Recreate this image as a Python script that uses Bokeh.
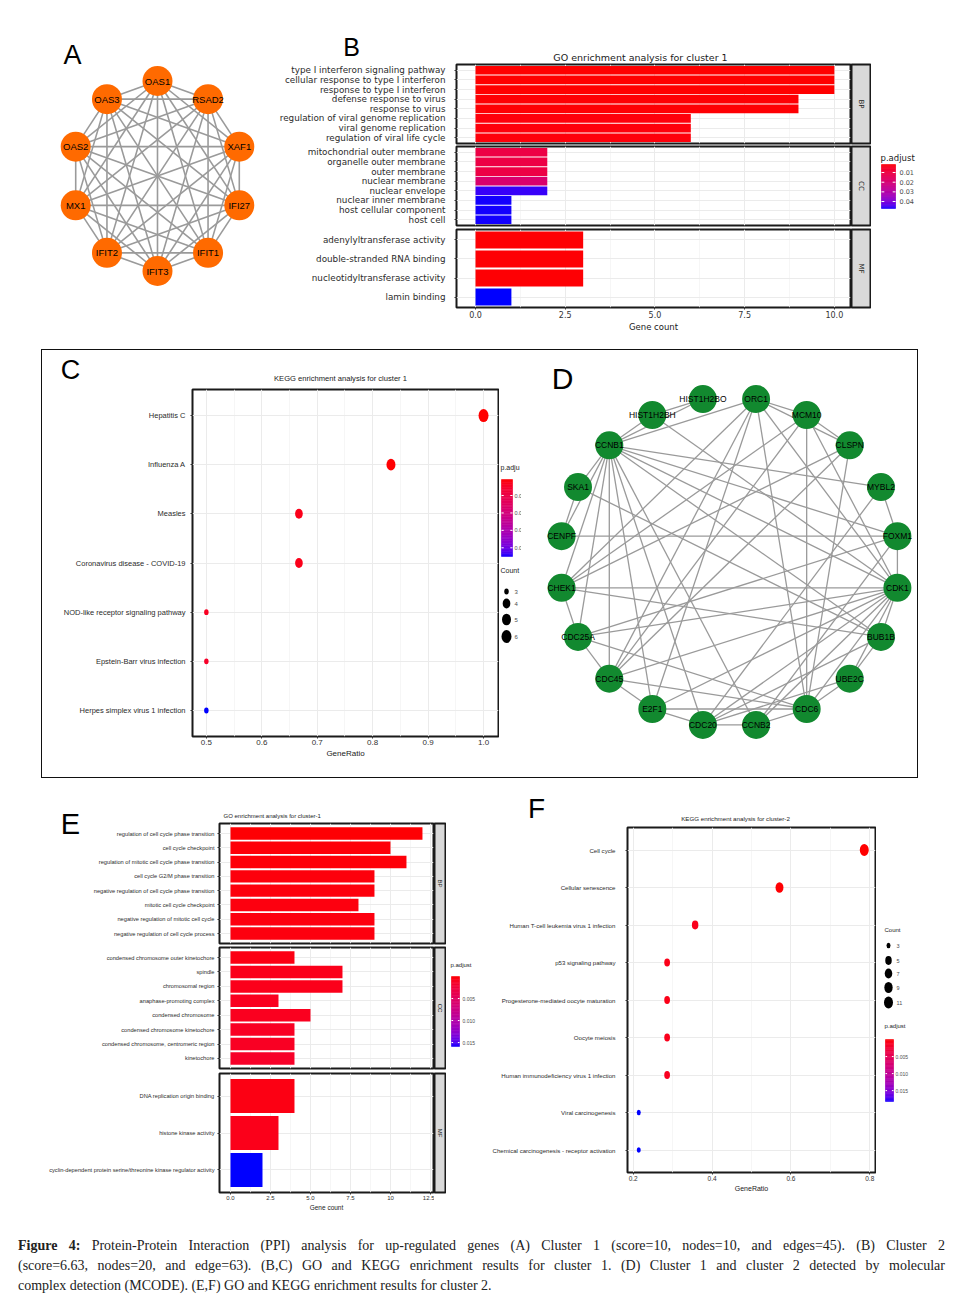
import itertools
import numpy as np
from bokeh.plotting import figure
from bokeh.models import (Range1d, FactorRange, FixedTicker, PrintfTickFormatter,
                          Div, ColumnDataSource)
from bokeh.layouts import row, column
from bokeh.embed import file_html
from bokeh.resources import INLINE
from bokeh.core.properties import value

# ======================= DATA =======================
# (A) cluster 1 PPI network (complete graph: 10 nodes, 45 edges)
a_nodes = ["OAS1", "RSAD2", "XAF1", "IFI27", "IFIT1", "IFIT3", "IFIT2", "MX1", "OAS2", "OAS3"]
a_edges = list(itertools.combinations(a_nodes, 2))

# (B) GO enrichment, cluster 1
b_title = "GO enrichment analysis for cluster 1"
b_bp_terms = ["type I interferon signaling pathway", "cellular response to type I interferon",
              "response to type I interferon", "defense response to virus", "response to virus",
              "regulation of viral genome replication", "viral genome replication",
              "regulation of viral life cycle"]
b_bp_count = [10, 10, 10, 9, 9, 6, 6, 6]
b_bp_padj = [0.0017, 0.0017, 0.0017, 0.002, 0.002, 0.0025, 0.0025, 0.0025]
b_cc_terms = ["mitochondrial outer membrane", "organelle outer membrane", "outer membrane",
              "nuclear membrane", "nuclear envelope", "nuclear inner membrane",
              "host cellular component", "host cell"]
b_cc_count = [2, 2, 2, 2, 2, 1, 1, 1]
b_cc_padj = [0.011, 0.011, 0.011, 0.019, 0.046, 0.047, 0.047, 0.047]
b_mf_terms = ["adenylyltransferase activity", "double-stranded RNA binding",
              "nucleotidyltransferase activity", "lamin binding"]
b_mf_count = [3, 3, 3, 1]
b_mf_padj = [0.002, 0.002, 0.002, 0.0472]
b_ticks = [0, 2.5, 5, 7.5, 10]
b_leg_ticks = [0.01, 0.02, 0.03, 0.04]
b_leg_labels = ["0.01", "0.02", "0.03", "0.04"]

# (C) KEGG enrichment, cluster 1
c_title = "KEGG enrichment analysis for cluster 1"
c_terms = ["Hepatitis C", "Influenza A", "Measles", "Coronavirus disease - COVID-19",
           "NOD-like receptor signaling pathway", "Epstein-Barr virus infection",
           "Herpes simplex virus 1 infection"]
c_ratio = [1.0, 0.833, 0.667, 0.667, 0.5, 0.5, 0.5]
c_count = [6, 5, 4, 4, 3, 3, 3]
c_padj = [0.0008, 0.001, 0.003, 0.003, 0.004, 0.005, 0.045]
c_ticks = [0.5, 0.6, 0.7, 0.8, 0.9, 1.0]
c_leg_ticks = [0.01, 0.02, 0.03, 0.04]
c_leg_labels = ["0.01", "0.02", "0.03", "0.04"]
c_leg_counts = [3, 4, 5, 6]

# (D) cluster 2 PPI network (20 nodes, 63 edges)
d_nodes = ["HIST1H2BO", "ORC1", "MCM10", "CLSPN", "MYBL2", "FOXM1", "CDK1", "BUB1B", "UBE2C",
           "CDC6", "CCNB2", "CDC20", "E2F1", "CDC45", "CDC25A", "CHEK1", "CENPF", "SKA1",
           "CCNB1", "HIST1H2BH"]
d_edges = [
    ("HIST1H2BH", "HIST1H2BO"), ("HIST1H2BH", "CCNB1"), ("HIST1H2BO", "CCNB1"), ("HIST1H2BH", "CDK1"),
    ("ORC1", "CCNB1"), ("ORC1", "MCM10"), ("ORC1", "CLSPN"), ("ORC1", "CDC6"), ("ORC1", "CDC45"),
    ("ORC1", "CHEK1"), ("ORC1", "E2F1"), ("ORC1", "CDK1"),
    ("MCM10", "CLSPN"), ("MCM10", "CDC6"), ("MCM10", "CDC45"), ("MCM10", "CHEK1"), ("MCM10", "CDK1"),
    ("CLSPN", "CHEK1"), ("CLSPN", "CDC6"), ("CLSPN", "CDC45"),
    ("MYBL2", "FOXM1"), ("MYBL2", "CCNB1"), ("MYBL2", "CDC20"),
    ("FOXM1", "CDK1"), ("FOXM1", "CCNB1"), ("FOXM1", "CENPF"), ("FOXM1", "CDC25A"), ("FOXM1", "CCNB2"),
    ("CDK1", "CCNB1"), ("CDK1", "CHEK1"), ("CDK1", "BUB1B"), ("CDK1", "UBE2C"), ("CDK1", "CDC6"),
    ("CDK1", "CCNB2"), ("CDK1", "CDC20"), ("CDK1", "E2F1"), ("CDK1", "CDC45"), ("CDK1", "CDC25A"),
    ("BUB1B", "UBE2C"), ("BUB1B", "CCNB1"), ("BUB1B", "SKA1"), ("BUB1B", "CDC20"), ("BUB1B", "CHEK1"),
    ("UBE2C", "CDC6"), ("UBE2C", "CDC20"),
    ("CDC6", "CCNB2"), ("CDC6", "E2F1"), ("CDC6", "CDC45"), ("CDC6", "CDC25A"),
    ("CCNB2", "CDC20"), ("CCNB2", "CCNB1"),
    ("CDC20", "CCNB1"), ("CDC20", "E2F1"),
    ("E2F1", "CDC45"), ("E2F1", "CCNB1"),
    ("CDC45", "CDC25A"), ("CDC45", "CCNB1"),
    ("CDC25A", "CHEK1"), ("CDC25A", "CCNB1"),
    ("CHEK1", "CCNB1"),
    ("SKA1", "CENPF"), ("SKA1", "CCNB1"), ("CENPF", "CCNB1"),
]

# (E) GO enrichment, cluster 2
e_title = "GO enrichment analysis for cluster-1"
e_bp_terms = ["regulation of cell cycle phase transition", "cell cycle checkpoint",
              "regulation of mitotic cell cycle phase transition", "cell cycle G2/M phase transition",
              "negative regulation of cell cycle phase transition", "mitotic cell cycle checkpoint",
              "negative regulation of mitotic cell cycle", "negative regulation of cell cycle process"]
e_bp_count = [12, 10, 11, 9, 9, 8, 9, 9]
e_bp_padj = [0.0001, 0.0002, 0.0002, 0.0003, 0.0003, 0.0004, 0.0004, 0.0004]
e_cc_terms = ["condensed chromosome outer kinetochore", "spindle", "chromosomal region",
              "anaphase-promoting complex", "condensed chromosome",
              "condensed chromosome kinetochore", "condensed chromosome, centromeric region",
              "kinetochore"]
e_cc_count = [4, 7, 7, 3, 5, 4, 4, 4]
e_cc_padj = [0.0005, 0.0008, 0.0008, 0.001, 0.001, 0.0012, 0.0012, 0.0015]
e_mf_terms = ["DNA replication origin binding", "histone kinase activity",
              "cyclin-dependent protein serine/threonine kinase regulator activity"]
e_mf_count = [4, 3, 2]
e_mf_padj = [0.0005, 0.0008, 0.0159]
e_ticks = [0, 2.5, 5, 7.5, 10, 12.5]
e_leg_ticks = [0.005, 0.010, 0.015]
e_leg_labels = ["0.005", "0.010", "0.015"]

# (F) KEGG enrichment, cluster 2
f_title = "KEGG enrichment analysis for cluster-2"
f_terms = ["Cell cycle", "Cellular senescence", "Human T-cell leukemia virus 1 infection",
           "p53 signaling pathway", "Progesterone-mediated oocyte maturation", "Oocyte meiosis",
           "Human immunodeficiency virus 1 infection", "Viral carcinogenesis",
           "Chemical carcinogenesis - receptor activation"]
f_ratio = [0.786, 0.571, 0.357, 0.286, 0.286, 0.286, 0.286, 0.214, 0.214]
f_count = [11, 8, 5, 4, 4, 4, 4, 3, 3]
f_padj = [0.00001, 0.0001, 0.001, 0.0008, 0.0008, 0.001, 0.0012, 0.0182, 0.0182]
f_ticks = [0.2, 0.4, 0.6, 0.8]
f_leg_ticks = [0.005, 0.010, 0.015]
f_leg_labels = ["0.005", "0.010", "0.015"]
f_leg_counts = [3, 5, 7, 9, 11]

caption_lines = [
    "<b>Figure 4:</b> Protein-Protein Interaction (PPI) analysis for up-regulated genes (A) Cluster 1 "
    "(score=10, nodes=10, and edges=45). (B) Cluster 2",
    "(score=6.63, nodes=20, and edge=63). (B,C) GO and KEGG enrichment results for cluster 1. (D) "
    "Cluster 1 and cluster 2 detected by molecular",
    "complex detection (MCODE). (E,F) GO and KEGG enrichment results for cluster 2.",
]

# ======================= COLOURS (ggplot red->blue, Lab interpolation) =======================
_M = np.array([[0.4124564, 0.3575761, 0.1804375],
               [0.2126729, 0.7151522, 0.0721750],
               [0.0193339, 0.1191920, 0.9503041]])
_W = np.array([0.95047, 1.0, 1.08883])


def _rgb2lab(rgb):
    c = np.array(rgb, float) / 255
    lin = np.where(c <= 0.04045, c / 12.92, ((c + 0.055) / 1.055) ** 2.4)
    xyz = _M @ lin / _W
    f = np.where(xyz > 0.008856, np.cbrt(xyz), 7.787 * xyz + 16 / 116)
    return np.array([116 * f[1] - 16, 500 * (f[0] - f[1]), 200 * (f[1] - f[2])])


def _lab2hex(lab):
    L, a, b = lab
    fy = (L + 16) / 116
    f = np.array([fy + a / 500, fy, fy - b / 200])
    xyz = np.where(f ** 3 > 0.008856, f ** 3, (f - 16 / 116) / 7.787) * _W
    lin = np.clip(np.linalg.solve(_M, xyz), 0, 1)
    s = np.where(lin <= 0.0031308, 12.92 * lin, 1.055 * lin ** (1 / 2.4) - 0.055)
    r, g, bb = (np.clip(s, 0, 1) * 255).round().astype(int)
    return "#%02x%02x%02x" % (r, g, bb)


_LOW, _HIGH = _rgb2lab((255, 0, 0)), _rgb2lab((0, 0, 255))


def pcolor(v, lim):
    t = min(max((v - lim[0]) / (lim[1] - lim[0]), 0.0), 1.0)
    return _lab2hex(_LOW + t * (_HIGH - _LOW))


def lim_of(*vals):
    allv = [x for v in vals for x in v]
    return (min(allv), max(allv))


def dot_w(c, cmin, cmax, r0, r1):
    return r0 + (r1 - r0) * np.sqrt((c - cmin) / (cmax - cmin))


FS = "Liberation Sans"
FD = "DejaVu Sans"
COMMON = dict(toolbar_location=None, output_backend="svg", frame_align=False)


# ======================= HELPERS =======================
def page_fig(W, H, x0, y0):
    """Decorative/network figure whose data coordinates equal page pixels."""
    p = figure(width=W, height=H, x_range=Range1d(x0, x0 + W), y_range=Range1d(y0 + H, y0),
               min_border=0, x_axis_location=None, y_axis_location=None, title_location=None,
               **COMMON)
    p.grid.visible = False
    p.outline_line_color = None
    return p


def put_text(p, x, y, t, font, size, align="center", color="#1a1a1a"):
    p.text(x=[x], y=[y], text=[t], text_align=align, text_baseline="middle",
           text_font=value(font), text_font_size=size, text_color=color)


def style_frame(p):
    p.outline_line_color = "#1a1a1a"
    p.outline_line_width = 2
    p.background_fill_color = "white"
    p.border_fill_color = "white"


def style_grid(p, ticks, minor):
    p.xgrid.ticker = FixedTicker(ticks=ticks, minor_ticks=minor)
    p.xgrid.grid_line_color = "#EBEBEB"
    p.xgrid.grid_line_width = 1
    p.xgrid.minor_grid_line_color = "#F4F4F4"
    p.xgrid.minor_grid_line_width = 0.8
    p.ygrid.grid_line_color = "#EBEBEB"
    p.ygrid.grid_line_width = 1


def style_yaxis(p, font, size, standoff):
    ax = p.yaxis[0]
    ax.axis_line_color = None
    ax.major_tick_line_color = "#333333"
    ax.major_tick_out = 2
    ax.major_tick_in = 0
    ax.minor_tick_line_color = None
    ax.major_label_text_font = font
    ax.major_label_text_font_size = size
    ax.major_label_text_color = "#2b2b2b"
    ax.major_label_standoff = standoff
    ax.major_label_orientation = "horizontal"


def style_xaxis(p, ticks, fmt, font, size, label, lsize, overrides=None):
    ax = p.xaxis[0]
    ax.ticker = FixedTicker(ticks=ticks)
    ax.formatter = PrintfTickFormatter(format=fmt)
    if overrides:
        ax.major_label_overrides = overrides
    ax.axis_line_color = None
    ax.major_tick_line_color = "#333333"
    ax.major_tick_out = 2
    ax.major_tick_in = 0
    ax.minor_tick_line_color = None
    ax.major_label_text_font = font
    ax.major_label_text_font_size = size
    ax.major_label_text_color = "#333333"
    ax.major_label_standoff = 1
    ax.axis_label = label
    ax.axis_label_text_font = font
    ax.axis_label_text_font_size = lsize
    ax.axis_label_text_font_style = "normal"
    ax.axis_label_text_color = "#1a1a1a"
    ax.axis_label_standoff = 1


def bar_facet(terms, counts, padj, lim, W, H, left, top, bottom, xr, ticks, minor,
              font, lab_size, standoff, pad, bar_h, title=None):
    src = ColumnDataSource(dict(term=terms, count=counts, color=[pcolor(v, lim) for v in padj]))
    p = figure(width=W, height=H, x_range=Range1d(*xr),
               y_range=FactorRange(factors=terms[::-1], range_padding=pad,
                                   range_padding_units="absolute"),
               min_border_left=left, min_border_right=1, min_border_top=top,
               min_border_bottom=bottom, x_axis_location=None if bottom < 20 else "below",
               title=title, title_location="above" if title else None, **COMMON)
    style_frame(p)
    style_grid(p, ticks, minor)
    p.hbar(y="term", left=0, right="count", height=bar_h, fill_color="color",
           line_color=None, source=src)
    style_yaxis(p, font, lab_size, standoff)
    return p


def strip_fig(text, W, H, top, bottom, font, size):
    s = figure(width=W, height=H, x_range=Range1d(0, 1), y_range=Range1d(0, 1),
               min_border_left=0, min_border_right=1, min_border_top=top, min_border_bottom=bottom,
               x_axis_location=None, y_axis_location=None, title_location=None, **COMMON)
    s.grid.visible = False
    s.background_fill_color = "#D9D9D9"
    s.border_fill_color = "white"
    s.outline_line_color = "#1a1a1a"
    s.outline_line_width = 2
    s.text(x=[0.5], y=[0.5], text=[text], angle=-np.pi / 2, text_align="center",
           text_baseline="middle", text_font=value(font), text_font_size=size, text_color="#1a1a1a")
    return s


def draw_colorbar(p, lim, ticks, labels, x0, x1, ytop, ybot, lab_x, font, fsize,
                  title, tx, ty, tsize):
    n = 48
    e = np.linspace(ytop, ybot, n + 1)
    vals = lim[0] + (np.arange(n) + 0.5) / n * (lim[1] - lim[0])
    cols = [pcolor(v, lim) for v in vals]
    p.quad(left=x0, right=x1, top=e[:-1], bottom=e[1:], fill_color=cols, line_color=cols,
           line_width=0.6)
    ys = [ytop + (v - lim[0]) / (lim[1] - lim[0]) * (ybot - ytop) for v in ticks]
    w = (x1 - x0) / 5
    k = len(ticks)
    p.segment(x0=[x0] * k, x1=[x0 + w] * k, y0=ys, y1=ys, line_color="white", line_width=1)
    p.segment(x0=[x1 - w] * k, x1=[x1] * k, y0=ys, y1=ys, line_color="white", line_width=1)
    p.text(x=[lab_x] * k, y=ys, text=labels, text_font=value(font), text_font_size=fsize,
           text_baseline="middle", text_align="left", text_color="#4d4d4d")
    put_text(p, tx, ty, title, font, tsize, align="left")


def draw_sizes(p, counts, widths, hf, x, ys, lab_x, font, fsize, title, tx, ty, tsize):
    k = len(counts)
    p.ellipse(x=[x] * k, y=ys, width=list(widths), height=[w * hf for w in widths],
              width_units="screen", height_units="screen", fill_color="black", line_color=None)
    p.text(x=[lab_x] * k, y=ys, text=[str(c) for c in counts], text_font=value(font),
           text_font_size=fsize, text_baseline="middle", text_align="left", text_color="#4d4d4d")
    put_text(p, tx, ty, title, font, tsize, align="left")


def network(p, nodes, edges, cx, cy, rx, ry, start_deg, node_size, color, font_size, lw):
    n = len(nodes)
    ang = np.deg2rad(start_deg - 360.0 / n * np.arange(n))
    xs = cx + rx * np.cos(ang)
    ys = cy - ry * np.sin(ang)
    pos = {nm: (x, y) for nm, x, y in zip(nodes, xs, ys)}
    p.segment(x0=[pos[a][0] for a, b in edges], y0=[pos[a][1] for a, b in edges],
              x1=[pos[b][0] for a, b in edges], y1=[pos[b][1] for a, b in edges],
              line_color="#9a9a9a", line_width=lw)
    p.scatter(x=xs, y=ys, size=node_size, marker="circle", fill_color=color, line_color=None)
    p.text(x=xs, y=ys, text=nodes, text_align="center", text_baseline="middle",
           text_font=value(FS), text_font_size=font_size, text_color="black")


# ======================= ROW 1 : A + B =======================
figA = page_fig(260, 337, 8, 8)
network(figA, a_nodes, a_edges, 157, 175.5, 86, 95, 90, 30, "#FF6A00", "9.5px", 1.6)
put_text(figA, 72, 54, "A", FS, "27px", color="black")

headB = page_fig(603, 55, 268, 8)
put_text(headB, 351, 46, "B", FS, "25px", color="black")
put_text(headB, 640, 57, b_title, FD, "9.5px")

b_lim = lim_of(b_bp_padj, b_cc_padj, b_mf_padj)
b_xr = (-0.53, 10.45)
b_minor = [1.25, 3.75, 6.25, 8.75]
bp = bar_facet(b_bp_terms, b_bp_count, b_bp_padj, b_lim, 583, 82, 188, 1, 2, b_xr, b_ticks,
               b_minor, FD, "8.8px", 9, 0.1, 0.9)
cc = bar_facet(b_cc_terms, b_cc_count, b_cc_padj, b_lim, 583, 82, 188, 1, 2, b_xr, b_ticks,
               b_minor, FD, "8.8px", 9, 0.1, 0.9)
mf = bar_facet(b_mf_terms, b_mf_count, b_mf_padj, b_lim, 583, 118, 188, 2, 38, b_xr, b_ticks,
               b_minor, FD, "8.8px", 9, 0.05, 0.9)
style_xaxis(mf, b_ticks, "%.1f", FD, "8px", "Gene count", "8.5px")

sbp = strip_fig("BP", 20, 82, 1, 2, FD, "7px")
scc = strip_fig("CC", 20, 82, 1, 2, FD, "7px")
smf = strip_fig("MF", 20, 118, 2, 38, FD, "7px")

legB = page_fig(83, 337, 871, 8)
draw_colorbar(legB, b_lim, b_leg_ticks, b_leg_labels, 881, 895, 164, 208, 899, FD, "6.5px",
              "p.adjust", 880, 157, "8.5px")

row1 = row(figA, column(headB, row(column(bp, cc, mf), column(sbp, scc, smf))), legB)

# ======================= ROW 2 : C + D =======================
headC = page_fig(457, 38, 42, 350)
put_text(headC, 70, 369, "C", FS, "27px", color="black")
put_text(headC, 340, 378, c_title, FS, "7.6px")

c_lim = lim_of(c_padj)
c_xr = (0.475, 1.027)
c_pad = 0.03
c_src = ColumnDataSource(dict(
    term=c_terms, ratio=c_ratio,
    w=[dot_w(c, min(c_count), max(c_count), 4.5, 10) for c in c_count],
    color=[pcolor(v, c_lim) for v in c_padj]))
c_src.data["h"] = [w * 1.3 for w in c_src.data["w"]]
figC = figure(width=457, height=389, x_range=Range1d(*c_xr),
              y_range=FactorRange(factors=c_terms[::-1], range_padding=c_pad,
                                  range_padding_units="absolute"),
              min_border_left=150, min_border_right=1, min_border_top=1, min_border_bottom=41,
              title_location=None, **COMMON)
style_frame(figC)
style_grid(figC, c_ticks, [0.55, 0.65, 0.75, 0.85, 0.95])
figC.ellipse(x="ratio", y="term", width="w", height="h", width_units="screen",
             height_units="screen", fill_color="color", line_color=None, source=c_src)
style_yaxis(figC, FS, "7.5px", 5)
style_xaxis(figC, c_ticks, "%.1f", FS, "8px", "GeneRatio", "8px")

legC = page_fig(22, 427, 499, 350)
# the legend is cut by panel D in the figure: only the visible part of each text is kept
draw_colorbar(legC, c_lim, c_leg_ticks, [s[:3] for s in c_leg_labels], 501, 512, 479, 556, 514,
              FS, "5.5px", "p.adju", 500, 467, "7px")
draw_sizes(legC, c_leg_counts,
           [dot_w(c, min(c_count), max(c_count), 4.5, 10) for c in c_leg_counts], 1.3,
           506, [591, 603, 619, 636], 514, FS, "6px", "Count", 500, 570, "7px")

figD = page_fig(396, 427, 521, 350)
network(figD, d_nodes, d_edges, 729, 561.5, 170, 165, 99, 28, "#12892F", "8.5px", 1.3)
put_text(figD, 562, 378, "D", FS, "30px", color="black")

row2 = row(column(headC, figC), legC, figD, margin=(5, 37, 5, 34),
           styles={"outline": "1.5px solid #111111"})

# ======================= ROW 3 : E + F =======================
letE = page_fig(82, 163, 8, 782)
put_text(letE, 70, 823, "E", FS, "29px", color="black")

e_lim = (0.0, max(e_bp_padj + e_cc_padj + e_mf_padj))
e_xr = (-0.6875, 12.69)
e_minor = [1.25, 3.75, 6.25, 8.75, 11.25]
ebp = bar_facet(e_bp_terms, e_bp_count, e_bp_padj, e_lim, 344, 163, 129, 41, 2, e_xr, e_ticks,
                e_minor, FS, "5.7px", 3, 0.2, 0.87, title=e_title)
ebp.title.text_font = FS
ebp.title.text_font_size = "6px"
ebp.title.text_font_style = "normal"
ebp.title.text_color = "#1a1a1a"
ebp.title.align = "left"
ebp.title.offset = 4
ebp.title.standoff = 10
ecc = bar_facet(e_cc_terms, e_cc_count, e_cc_padj, e_lim, 426, 125, 211, 2, 2, e_xr, e_ticks,
                e_minor, FS, "5.7px", 3, 0.2, 0.87)
emf = bar_facet(e_mf_terms, e_mf_count, e_mf_padj, e_lim, 426, 158, 211, 3, 36, e_xr, e_ticks,
                e_minor, FS, "5.7px", 3, 0.11, 0.92)
style_xaxis(emf, e_ticks, "%.1f", FS, "6px", "Gene count", "6.5px", overrides={10: "10"})

sebp = strip_fig("BP", 12, 163, 41, 2, FS, "6px")
secc = strip_fig("CC", 12, 125, 2, 2, FS, "6px")
semf = strip_fig("MF", 12, 158, 3, 36, FS, "6px")

legE = page_fig(36, 446, 446, 782)
draw_colorbar(legE, e_lim, e_leg_ticks, e_leg_labels, 451, 459, 976, 1046, 462, FS, "5px",
              "p.adjust", 450, 964, "6px")

headF = page_fig(394, 44, 482, 782)
put_text(headF, 536, 808, "F", FS, "28px", color="black")
put_text(headF, 735, 818, f_title, FS, "6.2px")

f_lim = (0.0, max(f_padj))
f_xr = (0.1855, 0.8145)
f_pad = 0.1
f_src = ColumnDataSource(dict(
    term=f_terms, ratio=f_ratio,
    w=[dot_w(c, min(f_count), max(f_count), 4, 9) for c in f_count],
    color=[pcolor(v, f_lim) for v in f_padj]))
f_src.data["h"] = [w * 1.35 for w in f_src.data["w"]]
figF = figure(width=394, height=402, x_range=Range1d(*f_xr),
              y_range=FactorRange(factors=f_terms[::-1], range_padding=f_pad,
                                  range_padding_units="absolute"),
              min_border_left=145, min_border_right=1, min_border_top=1, min_border_bottom=56,
              title_location=None, **COMMON)
style_frame(figF)
style_grid(figF, f_ticks, [0.3, 0.5, 0.7])
figF.ellipse(x="ratio", y="term", width="w", height="h", width_units="screen",
             height_units="screen", fill_color="color", line_color=None, source=f_src)
style_yaxis(figF, FS, "6.1px", 10)
style_xaxis(figF, f_ticks, "%.1f", FS, "6.5px", "GeneRatio", "7px")

legF = page_fig(78, 446, 876, 782)
draw_sizes(legF, f_leg_counts,
           [dot_w(c, min(f_count), max(f_count), 4, 9) for c in f_leg_counts], 1.35,
           888, [945, 960, 973, 987, 1002], 896, FS, "5.5px", "Count", 884, 929, "6px")
draw_colorbar(legF, f_lim, f_leg_ticks, f_leg_labels, 885, 893, 1039, 1101, 895, FS, "5px",
              "p.adjust", 884, 1025, "6px")

row3 = row(column(row(letE, ebp, sebp), row(ecc, secc), row(emf, semf)), legE,
           column(headF, figF), legF)

# ======================= CAPTION =======================
just = "text-align: justify; text-align-last: justify;"
cap_html = ('<div style="font-family: \'Liberation Serif\', serif; font-size: 14px; '
            'line-height: 20px; color: #222; padding-top: 8px; width: 927px;">'
            + "".join('<div style="%s">%s</div>' % (just if i < len(caption_lines) - 1 else "", ln)
                      for i, ln in enumerate(caption_lines))
            + "</div>")
caption = Div(text=cap_html, width=927, height=72, margin=(0, 0, 0, 10))

layout = column(row1, row2, row3, caption, margin=(8, 0, 0, 8))
open("out.html", "w").write(file_html(layout, INLINE))
